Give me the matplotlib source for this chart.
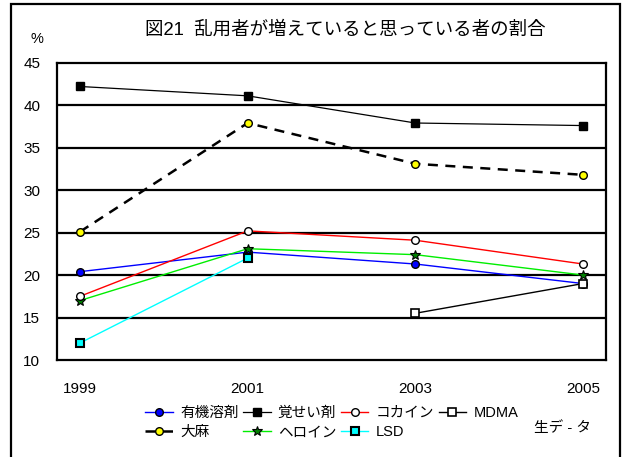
import matplotlib
matplotlib.use("Agg")
import matplotlib.pyplot as plt
from matplotlib.patches import Rectangle

plt.rcParams['font.family'] = ['Liberation Sans', 'Noto Sans CJK JP']

years = ["1999", "2001", "2003", "2005"]

# 割合 (%)
solvent = [20.4, 22.7, 21.3, 19.0]      # 有機溶剤
stimulant = [42.2, 41.1, 37.9, 37.6]    # 覚せい剤
cocaine = [17.5, 25.2, 24.1, 21.3]      # コカイン
mdma = [None, None, 15.5, 19.0]         # MDMA
cannabis = [25.1, 37.9, 33.1, 31.8]     # 大麻
heroin = [17.0, 23.1, 22.4, 20.0]       # ヘロイン
lsd = [12.0, 22.0, None, None]          # LSD

W, H = 626, 457
fig = plt.figure(figsize=(W / 100, H / 100), dpi=100)

# outer frame
fig.patches.append(Rectangle((11 / W, -0.02), 609 / W, 1.02 - 4 / H,
                             transform=fig.transFigure, fill=False,
                             edgecolor="black", linewidth=1.6))

ax = fig.add_axes([57 / W, (H - 360) / H, 549 / W, 297.3 / H])

x = list(range(len(years)))


def series(vals):
    xs = [i for i, v in zip(x, vals) if v is not None]
    ys = [v for v in vals if v is not None]
    return xs, ys


ms = 5.5
lines = {}
lines["有機溶剤"] = ax.plot(*series(solvent), color="blue", lw=1.0, marker="o",
                        ms=ms, mfc="blue", mec="black", mew=1.0)[0]
lines["大麻"] = ax.plot(*series(cannabis), color="black", lw=1.8, ls=(0, (4, 3)),
                      marker="o", ms=ms, mfc="yellow", mec="black", mew=1.0)[0]
lines["覚せい剤"] = ax.plot(*series(stimulant), color="black", lw=0.9, marker="s",
                        ms=ms, mfc="black", mec="black")[0]
lines["ヘロイン"] = ax.plot(*series(heroin), color="#00ee00", lw=1.0, marker="*",
                        ms=ms + 2, mfc="#008000", mec="black", mew=0.8)[0]
lines["コカイン"] = ax.plot(*series(cocaine), color="red", lw=1.0, marker="o",
                        ms=ms, mfc="white", mec="black", mew=1.0)[0]
lines["LSD"] = ax.plot(*series(lsd), color="cyan", lw=1.0, marker="s",
                       ms=ms, mfc="cyan", mec="black", mew=1.5)[0]
lines["MDMA"] = ax.plot(*series(mdma), color="black", lw=1.0, marker="s",
                        ms=ms, mfc="white", mec="black", mew=1.2)[0]

ax.set_xlim(-0.137, 3.137)
ax.set_ylim(10, 45)
ax.set_yticks(range(10, 46, 5))
ax.set_xticks(x)
ax.set_xticklabels(years)
for yv in range(15, 45, 5):
    ax.axhline(yv, color="black", lw=1.6, zorder=0.5)
for s in ax.spines.values():
    s.set_linewidth(1.6)
ax.tick_params(length=0, labelsize=11, pad=12)
ax.tick_params(axis="x", pad=16)

fig.text(345 / W, 1 - 30 / H, "図21  乱用者が増えていると思っている者の割合",
         ha="center", va="center", fontsize=13.3)
fig.text(37 / W, 1 - 39 / H, "%", ha="center", va="center", fontsize=10.5)
fig.text(563 / W, 1 - 428 / H, "生デ - タ", ha="center", va="center", fontsize=10.5)

fig.legend(list(lines.values()), list(lines.keys()), ncol=4, frameon=False,
           loc="upper left", bbox_to_anchor=(145 / W, 1 - 406 / H),
           fontsize=10.5, handlelength=1.9, handletextpad=0.5,
           columnspacing=0.3, labelspacing=0.35, borderpad=0, borderaxespad=0)

fig.savefig("out.png", dpi=100)
